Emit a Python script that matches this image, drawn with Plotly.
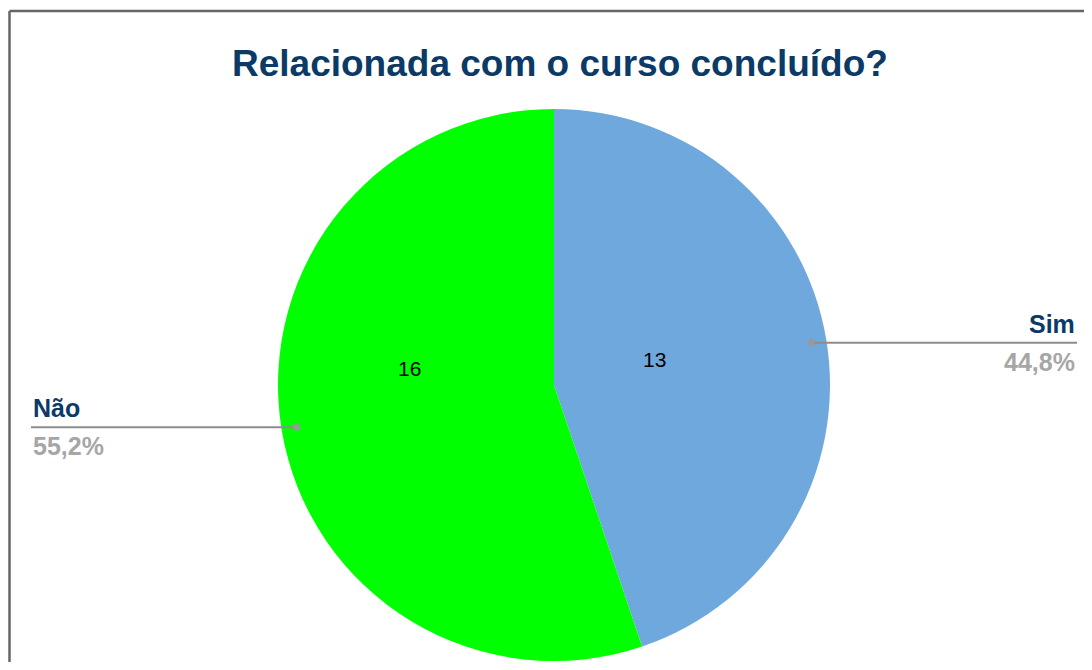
import math
import plotly.graph_objects as go

labels = ["Sim", "Não"]
values = [13, 16]
colors = ["#6fa8dc", "#00ff00"]
pct_labels = ["44,8%", "55,2%"]
title_text = "Relacionada com o curso concluído?"

# The page body has an 8px margin, so the figure is drawn 8px smaller and shifted.
OFF = 8
W, H = 1092 - 2 * OFF, 670 - 2 * OFF
CX, CY, R = 554 - OFF, 385 - OFF, 276

# inside value-label placement (fraction of radius, vertical nudge in px)
label_r = [0.37, 0.53]
label_nudge = [9, 40]

def px(x):
    return x / W

def py(y):
    return 1 - y / H

FONT = "Arial, Liberation Sans"

fig = go.Figure(go.Pie(
    labels=labels,
    values=values,
    marker=dict(colors=colors, line=dict(width=0)),
    sort=False,
    direction="clockwise",
    rotation=0,
    textinfo="none",
    domain=dict(x=[max(0, px(CX - R)), min(1, px(CX + R))],
                y=[max(0, py(CY + R)), min(1, py(CY - R))]),
    showlegend=False,
    hoverinfo="label+value+percent",
))

BX, BY = 9.5 - OFF, 11 - OFF
shapes = [
    dict(type="line", xref="paper", yref="paper", x0=px(BX), x1=1, y0=py(BY), y1=py(BY),
         line=dict(color="#666666", width=2.5)),
    dict(type="line", xref="paper", yref="paper", x0=px(BX), x1=px(BX), y0=py(BY), y1=0,
         line=dict(color="#666666", width=2.5)),
]
annotations = [
    dict(text="<b>" + title_text + "</b>", xref="paper", yref="paper", x=px(560 - OFF), y=py(63 - OFF),
         showarrow=False, xanchor="center", yanchor="middle",
         font=dict(family=FONT, size=37, color="#0b3a66")),
]

total = sum(values)
cum = 0
for i, (lab, val, pct) in enumerate(zip(labels, values, pct_labels)):
    mid = (cum + val / 2) / total * 2 * math.pi
    cum += val
    dx = math.sin(mid)
    dy = -math.cos(mid)
    # value label inside the slice
    annotations.append(dict(text=str(val), xref="paper", yref="paper",
                            x=px(CX + label_r[i] * R * dx),
                            y=py(CY + label_r[i] * R * dy - label_nudge[i]),
                            showarrow=False, xanchor="center", yanchor="middle",
                            font=dict(family=FONT, size=21, color="#000000")))
    dot_x = CX + 0.945 * R * dx
    dot_y = CY + 0.945 * R * dy
    if dx > 0:
        end_x = 1077 - OFF
        anchor = "right"
    else:
        end_x = 31 - OFF
        anchor = "left"
    shapes.append(dict(type="line", xref="paper", yref="paper", x0=px(dot_x), x1=px(end_x),
                       y0=py(dot_y), y1=py(dot_y), line=dict(color="#8c8c8c", width=2)))
    shapes.append(dict(type="circle", xref="paper", yref="paper",
                       x0=px(dot_x - 3.5), x1=px(dot_x + 3.5), y0=py(dot_y + 3.5), y1=py(dot_y - 3.5),
                       fillcolor="#999999", line=dict(width=0)))
    annotations.append(dict(text="<b>" + lab + "</b>", xref="paper", yref="paper",
                            x=px(end_x), y=py(dot_y - 19), showarrow=False,
                            xanchor=anchor, yanchor="middle",
                            font=dict(family=FONT, size=25, color="#0b3a66")))
    annotations.append(dict(text="<b>" + pct + "</b>", xref="paper", yref="paper",
                            x=px(end_x), y=py(dot_y + 19), showarrow=False,
                            xanchor=anchor, yanchor="middle",
                            font=dict(family=FONT, size=25, color="#a6a6a6")))

fig.update_layout(
    width=W, height=H,
    margin=dict(l=0, r=0, t=0, b=0),
    paper_bgcolor="#ffffff",
    plot_bgcolor="#ffffff",
    shapes=shapes,
    annotations=annotations,
)

fig.write_html("out.html")
